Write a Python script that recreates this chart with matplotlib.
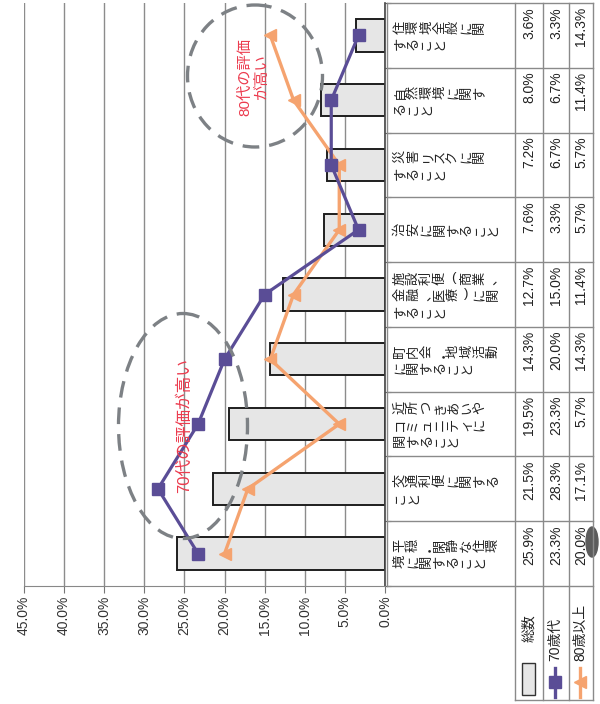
import numpy as np
import matplotlib
matplotlib.use('Agg')
import matplotlib.pyplot as plt
from matplotlib.patches import Ellipse, Rectangle

plt.rcParams['font.family'] = ['Liberation Sans', 'Noto Sans CJK JP']

# categories, listed bottom to top (the chart is printed rotated)
labels = ['平穏・閑静な住環\n境に関すること',
          '交通利便に関する\nこと',
          '近所つきあいや\nコミュニティに\n関すること',
          '町内会・地域活動\nに関すること',
          '施設利便（商業、\n金融、医療）に関\nすること',
          '治安に関すること',
          '災害リスクに関\nすること',
          '自然環境に関す\nること',
          '住環境全般に関\nすること']
total = [25.9, 21.5, 19.5, 14.3, 12.7, 7.6, 7.2, 8.0, 3.6]
age70 = [23.3, 28.3, 23.3, 20.0, 15.0, 3.3, 6.7, 6.7, 3.3]
age80 = [20.0, 17.1, 5.7, 14.3, 11.4, 5.7, 5.7, 11.4, 14.3]
series_names = ['総数', '70歳代', '80歳以上']
xticks = np.arange(0, 50, 5)
note70 = '70代の評価が高い'
note80 = '80代の評価\nが高い'

PURPLE = '#5a4d96'
ORANGE = '#f5a36f'
BARFILL = '#e6e6e6'
GRID = '#8c8c8c'
RED = '#ec3b4e'

W, H = 600, 704
fig = plt.figure(figsize=(6, 7.04), dpi=100)


def frac(x0, y0, x1, y1):
    return [x0 / W, 1 - y1 / H, (x1 - x0) / W, (y1 - y0) / H]


# main plot area (pixels)
PX0, PY0, PX1, PY1 = 24, 3, 385, 586
ax = fig.add_axes(frac(PX0, PY0, PX1, PY1))
pos = np.arange(len(labels))
ax.barh(pos, total, height=0.5, color=BARFILL, edgecolor='#1e1e1e',
        linewidth=1.4, zorder=2)
ax.plot(age80, pos, color=ORANGE, lw=2.4, marker='<', ms=9, zorder=3)
ax.plot(age70, pos, color=PURPLE, lw=2.3, marker='s', ms=8.5, zorder=4)
ax.set_xlim(45, 0)
ax.set_ylim(-0.5, len(labels) - 0.5)
ax.set_xticks(xticks)
ax.set_xticklabels([f'{v:.1f}%' for v in xticks], rotation=90,
                   fontsize=10, color='#333333')
ax.tick_params(axis='x', length=5, color='#777777', pad=2)
ax.set_yticks(np.arange(-0.5, len(labels), 1))
ax.set_yticklabels([])
ax.yaxis.tick_right()
ax.tick_params(axis='y', length=4, color='#555555', direction='out')
ax.grid(axis='x', color=GRID, lw=1, zorder=0)
ax.spines['top'].set_visible(False)
ax.spines['left'].set_visible(False)
ax.spines['bottom'].set_color('#888888')
ax.spines['right'].set_color('#444444')
ax.spines['right'].set_linewidth(1.2)

# overlay in pixel coordinates for table, legend and notes
ov = fig.add_axes([0, 0, 1, 1])
ov.set_xlim(0, W)
ov.set_ylim(H, 0)
ov.axis('off')

COLS = [387, 515, 543, 569, 593]
LEG_BOTTOM = 700
rows = np.linspace(PY1, PY0, len(labels) + 1)
TL = '#8a8a8a'
for y in rows:
    ov.plot([COLS[0], COLS[-1]], [y, y], color=TL, lw=1)
ov.plot([COLS[0], COLS[0]], [PY0, PY1], color=TL, lw=1)
for x in COLS[1:]:
    ov.plot([x, x], [PY0, LEG_BOTTOM], color=TL, lw=1)
ov.plot([COLS[1], COLS[-1]], [LEG_BOTTOM, LEG_BOTTOM], color=TL, lw=1)

# category labels: each character turned, lines run left to right
step = 13.3
line_gap = 16.5
for i, lab in enumerate(labels):
    lines = lab.split('\n')
    yc = (rows[i] + rows[i + 1]) / 2
    for j, line in enumerate(lines):
        yl = yc + (j - (len(lines) - 1) / 2) * line_gap
        for k, ch in enumerate(line):
            xc = 400 + k * step
            if ch in '（）':
                ov.text(xc, yl, '(' if ch == '（' else ')', ha='center',
                        va='center', fontsize=9.5, color='#222222')
            else:
                ov.text(xc, yl, ch, rotation=90, ha='center', va='center',
                        fontsize=9.5, color='#222222',
                        family='Noto Sans CJK JP')

# values
for c, series in enumerate([total, age70, age80]):
    xc = (COLS[c + 1] + COLS[c + 2]) / 2
    for i, v in enumerate(series):
        ov.text(xc, rows[i + 1] + 4, f'{v:.1f}%', rotation=90, ha='center',
                va='top', fontsize=10, color='#222222')

# legend cells
ov.add_patch(Rectangle((522, 663), 13, 32, facecolor=BARFILL,
                       edgecolor='#333333', lw=1))
ov.text(529, 642, series_names[0], rotation=90, ha='center', va='bottom',
        fontsize=10, color='#222222')
ov.plot([555, 555], [668, 697], color=PURPLE, lw=2.4)
ov.plot([555], [682], marker='s', ms=8, color=PURPLE)
ov.text(555, 661, series_names[1], rotation=90, ha='center', va='bottom',
        fontsize=10, color='#222222')
ov.plot([580, 580], [668, 697], color=ORANGE, lw=2.4)
ov.plot([580], [682], marker='<', ms=8, color=ORANGE)
ov.text(580, 661, series_names[2], rotation=90, ha='center', va='bottom',
        fontsize=10, color='#222222')

# notes
dash = (0, (5, 3))
ov.add_patch(Ellipse((183, 426), 129, 225, fill=False, ec='#7d8185',
                     lw=2.4, ls=dash))
ov.text(184, 426, note70, rotation=90, ha='center', va='center',
        fontsize=12, color=RED)
ov.add_patch(Ellipse((255, 76), 135, 142, fill=False, ec='#7d8185',
                     lw=2.4, ls=dash))
ov.text(254, 77, note80, rotation=90, ha='center', va='center',
        multialignment='center', fontsize=11, color=RED, linespacing=1.25)

# dark mark on the page edge
ov.add_patch(Ellipse((592, 542), 12, 30, color='#5c5c5c'))

fig.savefig('out.png', dpi=100, facecolor='white')
